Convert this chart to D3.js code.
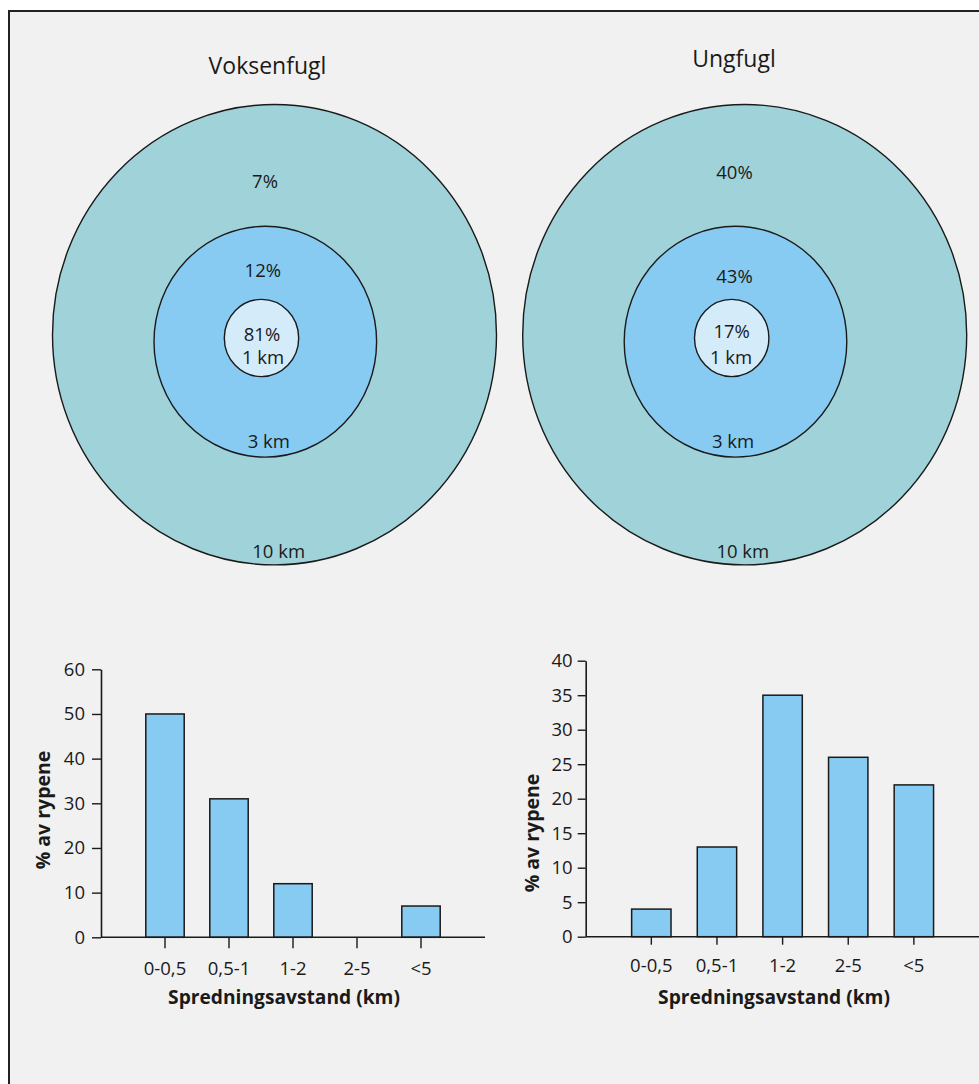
<!DOCTYPE html>
<html>
<head>
<meta charset="utf-8">
<script src="https://cdn.jsdelivr.net/npm/d3@7"></script>
<style>
  html, body { margin: 0; padding: 0; background: #ffffff; }
  svg { display: block; }
  text { font-family: "Open Sans", "Noto Sans", sans-serif; fill: #1a1a1a; }
</style>
</head>
<body>
<svg id="chart" width="979" height="1084"></svg>
<script>
// Ring radii (km) and share of birds found within each ring
const ringKm = [1, 3, 10];
const adultShare = [81, 12, 7];      // Voksenfugl
const juvenileShare = [17, 43, 40];  // Ungfugl
const panelTitles = ["Voksenfugl", "Ungfugl"];

// Dispersal distance classes and percentage of birds
const distanceClasses = ["0-0,5", "0,5-1", "1-2", "2-5", "<5"];
const adultPct = [50, 31, 12, 0, 7];
const juvenilePct = [4, 13, 35, 26, 22];
const adultTicks = [0, 10, 20, 30, 40, 50, 60];
const juvenileTicks = [0, 5, 10, 15, 20, 25, 30, 35, 40];
const yTitle = "% av rypene";
const xTitle = "Spredningsavstand (km)";

const ringFill = ["#d4ebfa", "#87cbf2", "#9fd3d9"];
const barFill = "#87cbf2";
const ink = "#1a1a1a";

const svg = d3.select("#chart");

// panel frame
svg.append("rect").attr("x", 9).attr("y", 11).attr("width", 1000).attr("height", 1100)
  .attr("fill", "#f1f1f1").attr("stroke", "#222").attr("stroke-width", 2);

// ring radius scale: 1 km, 3 km and 10 km rings drawn at 1 : 3 : 6
const rScale = d3.scaleLinear().domain([0, 1, 3, 10]).range([0, 37.2, 111.3, 222]);
const aspect = 1.037;
// ring centre offsets relative to the outer ring
const ringOffset = [[-13, 3.3], [-9.2, 7], [0, 0]];

const ringPanels = [
  { title: panelTitles[0], shares: adultShare, cx: 274.5, cy: 334.7, titleX: 267.5, titleY: 74.3,
    pct: [[-12.5, 6], [-11.7, -58], [-9.5, -146.7]],
    km:  [[-11.5, 29.3], [-5.7, 113.3], [4.2, 223]] },
  { title: panelTitles[1], shares: juvenileShare, cx: 744.7, cy: 334.7, titleX: 734, titleY: 66.7,
    pct: [[-13, 3.6], [-10.2, -52], [-10.2, -155.7]],
    km:  [[-13.7, 29.3], [-11.7, 113.3], [-1.9, 223]] }
];

ringPanels.forEach(p => {
  const g = svg.append("g");
  g.append("text").attr("x", p.titleX).attr("y", p.titleY)
    .attr("text-anchor", "middle").style("font-size", "23px").text(p.title);

  const rings = ringKm.map((km, i) => ({ km, share: p.shares[i], i }));
  // draw largest first
  g.selectAll("ellipse").data(rings.slice().reverse()).join("ellipse")
    .attr("cx", d => p.cx + ringOffset[d.i][0])
    .attr("cy", d => p.cy + ringOffset[d.i][1])
    .attr("rx", d => rScale(d.km))
    .attr("ry", d => rScale(d.km) * aspect)
    .attr("fill", d => ringFill[d.i])
    .attr("stroke", ink).attr("stroke-width", 1.4);

  g.selectAll("text.pct").data(rings).join("text").attr("class", "pct")
    .attr("x", d => p.cx + p.pct[d.i][0])
    .attr("y", d => p.cy + p.pct[d.i][1])
    .attr("text-anchor", "middle").style("font-size", "18.5px")
    .text(d => d.share + "%");

  g.selectAll("text.km").data(rings).join("text").attr("class", "km")
    .attr("x", d => p.cx + p.km[d.i][0])
    .attr("y", d => p.cy + p.km[d.i][1])
    .attr("text-anchor", "middle").style("font-size", "18.5px")
    .text(d => d.km + " km");
});

// bar charts
const barPanels = [
  { values: adultPct, ticks: adultTicks, max: 60, x0: 101, x1: 485, yBase: 937.3, yTop: 669.3,
    yTitleX: 43, yTitleY: 810, xTitleX: 284, tickLenY: 9, tickLenX: 11, yPad: 7 },
  { values: juvenilePct, ticks: juvenileTicks, max: 40, x0: 585.7, x1: 979.5, yBase: 936.7, yTop: 660.7,
    yTitleX: 531.7, yTitleY: 833, xTitleX: 774, tickLenY: 8, tickLenX: 8, yPad: 5 }
];

barPanels.forEach(p => {
  const g = svg.append("g");
  const step = (p.x1 - p.x0) / 6;
  const x = d3.scaleBand().domain(distanceClasses)
    .range([p.x0 + step / 2, p.x1 - step / 2])
    .paddingInner(0.4).paddingOuter(0.2);
  const y = d3.scaleLinear().domain([0, p.max]).range([p.yBase, p.yTop]);

  const data = distanceClasses.map((c, i) => ({ c, v: p.values[i] }));
  g.selectAll("rect.bar").data(data.filter(d => d.v > 0)).join("rect").attr("class", "bar")
    .attr("x", d => x(d.c))
    .attr("y", d => y(d.v))
    .attr("width", x.bandwidth())
    .attr("height", d => y(0) - y(d.v))
    .attr("fill", barFill).attr("stroke", ink).attr("stroke-width", 1.5);

  // y axis
  const ya = g.append("g").attr("transform", `translate(${p.x0},0)`)
    .call(d3.axisLeft(y).tickValues(p.ticks).tickSize(p.tickLenY).tickPadding(p.yPad).tickSizeOuter(0));
  ya.select(".domain").attr("stroke", ink).attr("stroke-width", 1.6);
  ya.selectAll(".tick line").attr("stroke", ink).attr("stroke-width", 1.4);
  ya.selectAll(".tick text").style("font-size", "18.5px").style("font-family", "Open Sans, sans-serif").attr("fill", ink);

  // x axis
  const xa = g.append("g").attr("transform", `translate(0,${p.yBase})`)
    .call(d3.axisBottom(x).tickSize(p.tickLenX).tickPadding(14).tickSizeOuter(0));
  xa.select(".domain").remove();
  xa.selectAll(".tick line").attr("stroke", ink).attr("stroke-width", 1.4);
  xa.selectAll(".tick text").style("font-size", "18.5px").style("font-family", "Open Sans, sans-serif").attr("fill", ink);
  g.append("line").attr("x1", p.x0).attr("x2", p.x1).attr("y1", p.yBase).attr("y2", p.yBase)
    .attr("stroke", ink).attr("stroke-width", 1.6);

  g.append("text")
    .attr("transform", `translate(${p.yTitleX},${p.yTitleY}) rotate(-90)`)
    .attr("text-anchor", "middle").attr("dy", "0.35em")
    .style("font-size", "19.5px").style("font-weight", "bold").text(yTitle);

  g.append("text").attr("x", p.xTitleX).attr("y", 1004)
    .attr("text-anchor", "middle")
    .style("font-size", "19.2px").style("font-weight", "bold").text(xTitle);
});
</script>
</body>
</html>
